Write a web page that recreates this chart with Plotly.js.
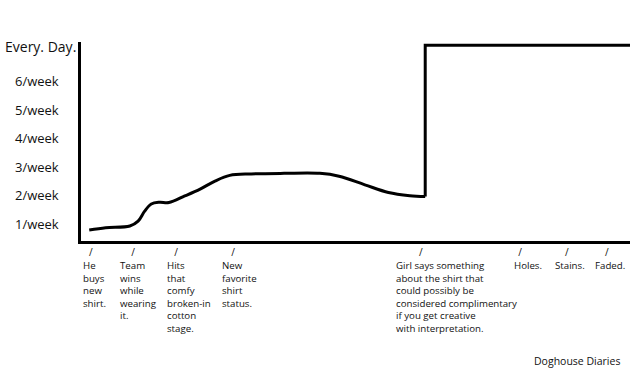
<!DOCTYPE html>
<html>
<head>
<meta charset="utf-8">
<script src="https://cdn.plot.ly/plotly-3.0.1.min.js"></script>
<style>html,body{margin:0;padding:0;background:#fff;}#chart{width:630px;height:376px;}</style>
</head>
<body>
<div id="chart"></div>
<script>
// Time axis (arbitrary units 0..100) and wear frequency (times per week)
const curveX = [1.5, 4.5, 8.9, 10.4, 11.6, 12.8, 14.3, 16.0, 18.9, 21.7, 24.4, 27.1, 31.0, 37.0, 43.5, 47.0, 51.7, 56.0, 59.9, 62.7];
const curveY = [0.79, 0.87, 0.93, 1.10, 1.45, 1.70, 1.76, 1.75, 1.98, 2.22, 2.50, 2.70, 2.75, 2.77, 2.77, 2.67, 2.37, 2.10, 1.99, 1.96];
const jumpX = [62.7, 62.7, 100];
const jumpY = [1.96, 7.25, 7.25];

const yTickVals = [1, 2, 3, 4, 5, 6, 7.2];
const yTickText = ["1/week", "2/week", "3/week", "4/week", "5/week", "6/week", "Every. Day."];

const milestoneX = [1.8, 9.5, 17.3, 27.7, 61.9, 80.0, 88.5, 95.8];
const labelX = [0, 6.7, 15.3, 25.3, 57.0, 78.5, 86.0, 93.3];
const milestoneLabels = [
  "He<br>buys<br>new<br>shirt.",
  "Team<br>wins<br>while<br>wearing<br>it.",
  "Hits<br>that<br>comfy<br>broken-in<br>cotton<br>stage.",
  "New<br>favorite<br>shirt<br>status.",
  "Girl says something<br>about the shirt that<br>could possibly be<br>considered complimentary<br>if you get creative<br>with interpretation.",
  "Holes.",
  "Stains.",
  "Faded."
];
const credit = "Doghouse Diaries";

const FONT = "Open Sans, Lato, sans-serif";

const traces = [
  {x: curveX, y: curveY, mode: "lines", line: {color: "#000", width: 3, shape: "spline", smoothing: 1}, hoverinfo: "skip"},
  {x: jumpX, y: jumpY, mode: "lines", line: {color: "#000", width: 3}, hoverinfo: "skip"}
];

const annotations = [];
yTickVals.forEach((v, i) => {
  const isTop = i === yTickVals.length - 1;
  annotations.push({
    xref: "paper", yref: "y", x: -0.08, y: v, xanchor: "center", yanchor: "middle",
    xshift: isTop ? 3 : 0,
    text: yTickText[i], showarrow: false,
    font: {family: FONT, size: isTop ? 14 : 13, color: "#111"}
  });
});
milestoneLabels.forEach((t, i) => {
  annotations.push({
    xref: "x", yref: "paper", x: labelX[i], y: -0.08, xanchor: "left", yanchor: "top",
    align: "left", text: t, showarrow: false,
    font: {family: FONT, size: 9.7, color: "#111"}
  });
});
annotations.push({
  xref: "paper", yref: "paper", x: 0.985, y: -0.605, xanchor: "right", yanchor: "middle",
  text: credit, showarrow: false, font: {family: FONT, size: 10.5, color: "#111"}
});

const layout = {
  width: 630, height: 376,
  margin: {l: 81, r: 0, t: 42, b: 135},
  paper_bgcolor: "#fff", plot_bgcolor: "#fff",
  showlegend: false,
  xaxis: {
    range: [0, 100], showgrid: false, zeroline: false,
    showline: true, linecolor: "#000", linewidth: 3,
    tickmode: "array", tickvals: milestoneX, ticktext: milestoneX.map(() => "/"),
    ticks: "", tickfont: {family: FONT, size: 10, color: "#111"}, fixedrange: true
  },
  yaxis: {
    range: [0.406, 7.36], showgrid: false, zeroline: false,
    showline: true, linecolor: "#000", linewidth: 3,
    showticklabels: false, ticks: "", fixedrange: true
  },
  annotations: annotations
};

Plotly.newPlot("chart", traces, layout, {displayModeBar: false, staticPlot: true});
</script>
</body>
</html>
